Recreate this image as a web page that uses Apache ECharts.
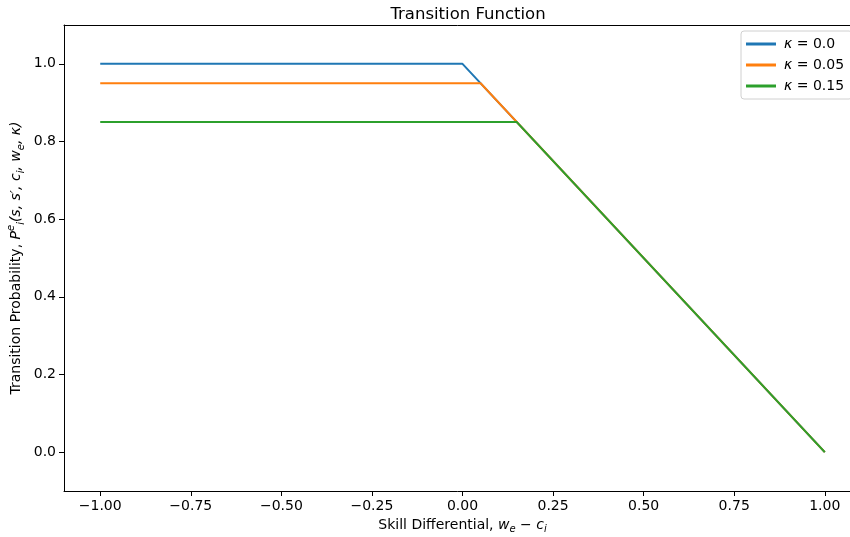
<!DOCTYPE html>
<html><head><meta charset="utf-8">
<script src="https://cdn.jsdelivr.net/npm/echarts@6/dist/echarts.min.js"></script>
<style>html,body{margin:0;padding:0;background:#fff;overflow:hidden}#c{width:850px;height:537px}</style>
</head><body><div id="c"></div>
<script>
const xTicks = [-1.0, -0.75, -0.5, -0.25, 0.0, 0.25, 0.5, 0.75, 1.0];
const yTicks = [0.0, 0.2, 0.4, 0.6, 0.8, 1.0];
const kappas = ['0.0', '0.05', '0.15'];
const xK0 = [-1.0, 0.0, 1.0];
const yK0 = [1.0, 1.0, 0.0];
const xK05 = [-1.0, 0.05, 1.0];
const yK05 = [0.95, 0.95, 0.0];
const xK15 = [-1.0, 0.15, 1.0];
const yK15 = [0.85, 0.85, 0.0];
const colors = ['#1f77b4', '#ff7f0e', '#2ca02c'];

const FONT = 'DejaVu Sans';
const zip = (xs, ys) => xs.map((x, i) => [x, ys[i]]);
const seriesData = [zip(xK0, yK0), zip(xK05, yK05), zip(xK15, yK15)];
const names = kappas.map(k => 'k' + k);
const fmtMinus = s => s.replace('-', '\u2212');

const chart = echarts.init(document.getElementById('c'), null, {renderer: 'canvas'});
chart.setOption({
  animation: false,
  textStyle: {fontFamily: FONT},
  title: {
    text: 'Transition Function', left: 463, top: 1, textAlign: 'center',
    textStyle: {fontFamily: FONT, fontSize: 16.5, fontWeight: 'normal', color: '#000'}
  },
  grid: {left: 64, right: -11, top: 25, bottom: 46, show: false,
    containLabel: false, outerBoundsMode: 'none'},
  legend: {
    orient: 'vertical', left: 741, top: 31, itemWidth: 30, itemHeight: 3, itemGap: 7,
    padding: [6, 8, 6, 5], borderColor: '#d0d0d0', borderWidth: 1, borderRadius: 3,
    backgroundColor: 'rgba(255,255,255,0.8)',
    icon: 'rect',
    data: names,
    formatter: n => '{k|κ} = ' + n.slice(1),
    textStyle: {fontFamily: FONT, fontSize: 14, color: '#000', padding: [0, 0, 0, 3],
      rich: {k: {fontFamily: FONT, fontStyle: 'italic', fontSize: 14, color: '#000'}}}
  },
  xAxis: [{
    type: 'value', min: -1.1, max: 1.1,
    name: '{n|Skill Differential, }{m|w}{s|e}{n| − }{m|c}{s|i}',
    nameLocation: 'middle', nameGap: 25,
    nameTextStyle: {fontFamily: FONT, fontSize: 14, color: '#000',
      rich: {
        n: {fontFamily: FONT, fontSize: 14, color: '#000', lineHeight: 18},
        m: {fontFamily: FONT, fontSize: 14, fontStyle: 'italic', color: '#000', lineHeight: 18},
        s: {fontFamily: FONT, fontSize: 10, fontStyle: 'italic', color: '#000', lineHeight: 18, verticalAlign: 'bottom'}
      }},
    axisLine: {show: true, onZero: false, lineStyle: {color: '#000', width: 1}},
    axisTick: {show: true, inside: false, length: 5, customValues: xTicks, lineStyle: {color: '#000'}},
    axisLabel: {show: true, customValues: xTicks, margin: 8, fontFamily: FONT, fontSize: 14, color: '#000',
      formatter: v => fmtMinus(v.toFixed(2))},
    splitLine: {show: false}
  }, {
    type: 'value', min: -1.1, max: 1.1, position: 'top',
    axisLine: {show: true, onZero: false, lineStyle: {color: '#000', width: 1}},
    axisTick: {show: false}, axisLabel: {show: false}, splitLine: {show: false}
  }],
  yAxis: {
    type: 'value', min: -0.1, max: 1.1,
    name: '{n|Transition Probability, }{m|P}{sup|e}{s|i}{m|(s, s′, c}{s|i}{m|, w}{s|e}{m|, κ)}',
    nameLocation: 'middle', nameGap: 38, nameRotate: 90, nameMoveOverlap: false,
    nameTextStyle: {fontFamily: FONT, fontSize: 14, color: '#000',
      rich: {
        n: {fontFamily: FONT, fontSize: 14, color: '#000', lineHeight: 20},
        m: {fontFamily: FONT, fontSize: 14, fontStyle: 'italic', color: '#000', lineHeight: 20},
        s: {fontFamily: FONT, fontSize: 10, fontStyle: 'italic', color: '#000', lineHeight: 20, verticalAlign: 'bottom'},
        sup: {fontFamily: FONT, fontSize: 10, fontStyle: 'italic', color: '#000', lineHeight: 20, verticalAlign: 'top'}
      }},
    axisLine: {show: true, onZero: false, lineStyle: {color: '#000', width: 1}},
    axisTick: {show: true, inside: false, length: 5, customValues: yTicks, lineStyle: {color: '#000'}},
    axisLabel: {show: true, customValues: yTicks, margin: 8, fontFamily: FONT, fontSize: 14, color: '#000',
      formatter: v => fmtMinus(v.toFixed(1))},
    splitLine: {show: false}
  },
  series: seriesData.map((d, i) => ({
    name: names[i], type: 'line', data: d, showSymbol: false, symbol: 'none',
    lineStyle: {color: colors[i], width: 2}, itemStyle: {color: colors[i]},
    z: 2 + i
  }))
});
</script></body></html>
